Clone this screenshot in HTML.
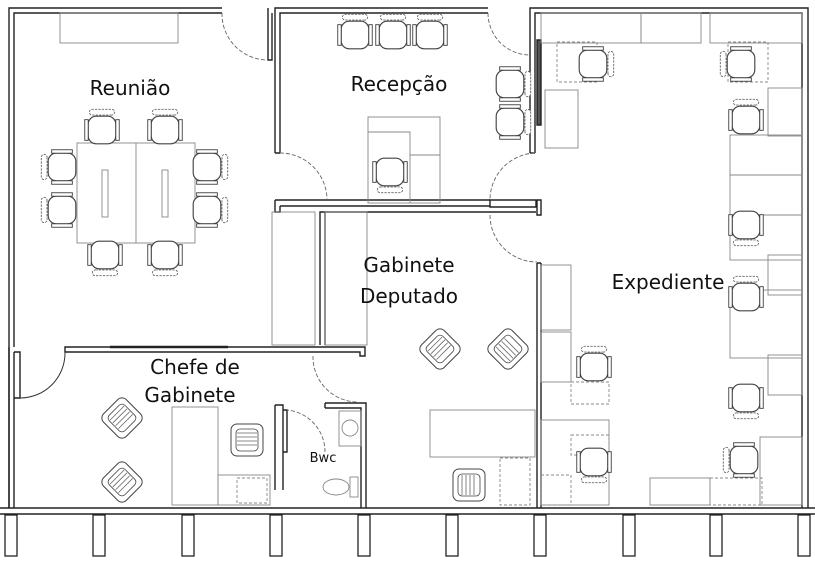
<!DOCTYPE html>
<html><head><meta charset="utf-8"><style>
html,body{margin:0;padding:0;background:#fff;}
svg{display:block;}
text{font-family:"DejaVu Sans","Liberation Sans",sans-serif;fill:#111;}
</style></head><body>
<svg width="815" height="564" viewBox="0 0 815 564" xmlns="http://www.w3.org/2000/svg">
<defs>
<g id="ch0">
 <rect x="-12" y="-12" width="24" height="24" rx="7" fill="#fff" stroke="#444" stroke-width="1"/>
 <rect x="-15" y="-9" width="3" height="18" fill="#fff" stroke="#444" stroke-width="0.8"/>
 <rect x="12" y="-9" width="3" height="18" fill="#fff" stroke="#444" stroke-width="0.8"/>
 <rect x="-11" y="13" width="22" height="5" rx="2.5" fill="#fff" stroke="#666" stroke-width="0.8" stroke-dasharray="2 1"/>
</g>
<g id="ch"><use href="#ch0" transform="scale(1.15)"/></g>
<g id="ac">
 <rect x="-16" y="-16" width="32" height="32" rx="6" fill="#fff" stroke="#444" stroke-width="1"/>
 <rect x="-11" y="-11" width="22" height="22" rx="4" fill="#fff" stroke="#444" stroke-width="0.8"/>
 <path d="M-7 -10V10M-3 -10V10M1 -10V10M5 -10V10" stroke="#666" stroke-width="0.8"/>
</g>
</defs>
<g fill="none" stroke="#222" stroke-width="1.4">
<path d="M9 508V8H222M14 347V13H222"/>
<path d="M268 8V60H272V13"/>
<path d="M275 153V8H488M280 153V13H488M275 153H280"/>
<path d="M275 200H490M280 206H490M275 200V212H280V206"/>
<path d="M530 153V8H808V508M535 153V13H802V508M530 153H535"/>
<path d="M537 40H541V125H537Z" fill="#555"/>
<path d="M490 200V207H536V200ZM537 200H541V215H537Z"/>
<path d="M537 263V508M541 263V508M537 263H541"/>
<path d="M320 345V212H536M325 345V212"/>
<path d="M65 347H365V356H360V352H65Z"/>
<path d="M110 347H228" stroke-width="2.5"/>
<path d="M9 347V508M14 352V508M14 352H20V398H14"/>
<path d="M275 405H283V490M275 405V490M283 410H287V452H283"/>
<path d="M325 403H366V508M325 408H361V508M325 403V408"/>
<path d="M0 508H815M0 514H815"/>
</g>
<g fill="none" stroke="#666" stroke-width="0.9" stroke-dasharray="4 2">
<path d="M222 13A46 46 0 0 0 268 60"/>
<path d="M280 153A47 47 0 0 1 327 200"/>
<path d="M488 13A42 42 0 0 0 530 55"/>
<path d="M535 153A47 47 0 0 0 490 200"/>
<path d="M490 215A47 47 0 0 0 537 262"/>
<path d="M313 356A45 45 0 0 0 358 402"/>
<path d="M325 452A42 42 0 0 0 287 410" />
</g>
<path d="M65 352A45 45 0 0 1 20 398" fill="none" stroke="#333" stroke-width="1"/>
<g fill="none" stroke="#888" stroke-width="0.9">
<rect x="60" y="13" width="118" height="30"/>
<rect x="77" y="143" width="118" height="100"/><path d="M136 143V243"/>
<rect x="102" y="170" width="6" height="47"/><rect x="162" y="170" width="6" height="47"/>
<rect x="368" y="117" width="72" height="86"/><path d="M368 132H410V203M410 155H440"/>
<rect x="272" y="212" width="43" height="133"/><rect x="325" y="212" width="42" height="133"/>
<rect x="430" y="410" width="105" height="47"/>
<rect x="500" y="458" width="30" height="47" stroke-dasharray="3 2"/>
<rect x="172" y="407" width="46" height="98"/><rect x="218" y="475" width="52" height="30"/>
<rect x="237" y="478" width="30" height="25" stroke-dasharray="3 2"/>
<rect x="541" y="13" width="100" height="30"/><rect x="641" y="13" width="60" height="30"/><rect x="710" y="13" width="92" height="30"/>
<rect x="557" y="42" width="40" height="40" stroke-dasharray="3 2"/>
<rect x="545" y="90" width="33" height="58"/>
<rect x="728" y="42" width="40" height="40" stroke-dasharray="3 2"/>
<rect x="768" y="88" width="34" height="48"/><rect x="730" y="135" width="72" height="40"/>
<rect x="730" y="175" width="72" height="40"/><rect x="730" y="215" width="72" height="45"/>
<rect x="768" y="255" width="34" height="40"/><rect x="730" y="290" width="72" height="68"/>
<rect x="768" y="355" width="34" height="40"/><rect x="760" y="437" width="42" height="68"/>
<rect x="650" y="478" width="60" height="27"/><rect x="710" y="478" width="52" height="27" stroke-dasharray="3 2"/>
<rect x="541" y="265" width="30" height="65"/><rect x="541" y="332" width="30" height="50"/>
<rect x="571" y="382" width="38" height="22" stroke-dasharray="3 2"/>
<rect x="541" y="420" width="68" height="85"/><rect x="571" y="435" width="38" height="20" stroke-dasharray="3 2"/>
<rect x="541" y="475" width="30" height="30" stroke-dasharray="3 2"/>
<rect x="339" y="411" width="22" height="35"/>
<circle cx="350" cy="428" r="8"/>
<ellipse cx="336" cy="487" rx="13" ry="8"/><rect x="350" y="477" width="8" height="20"/>
</g>
<use href="#ch" transform="translate(102,130) rotate(180)"/>
<use href="#ch" transform="translate(165,130) rotate(180)"/>
<use href="#ch" transform="translate(62,167) rotate(90)"/>
<use href="#ch" transform="translate(62,210) rotate(90)"/>
<use href="#ch" transform="translate(207,167) rotate(-90)"/>
<use href="#ch" transform="translate(207,210) rotate(-90)"/>
<use href="#ch" transform="translate(105,255)"/>
<use href="#ch" transform="translate(165,255)"/>
<use href="#ch" transform="translate(355,35) rotate(180)"/>
<use href="#ch" transform="translate(393,35) rotate(180)"/>
<use href="#ch" transform="translate(430,35) rotate(180)"/>
<use href="#ch" transform="translate(510,84) rotate(-90)"/>
<use href="#ch" transform="translate(510,122) rotate(-90)"/>
<use href="#ch" transform="translate(390,172)"/>
<use href="#ch" transform="translate(593,64) rotate(-90)"/>
<use href="#ch" transform="translate(741,64) rotate(90)"/>
<use href="#ch" transform="translate(746,120) rotate(180)"/>
<use href="#ch" transform="translate(746,225)"/>
<use href="#ch" transform="translate(746,297) rotate(180)"/>
<use href="#ch" transform="translate(746,398)"/>
<use href="#ch" transform="translate(744,460) rotate(90)"/>
<use href="#ch" transform="translate(594,367) rotate(180)"/>
<use href="#ch" transform="translate(594,462)"/>
<use href="#ac" transform="translate(440,349) rotate(45)"/>
<use href="#ac" transform="translate(508,349) rotate(-45)"/>
<use href="#ac" transform="translate(469,485)"/>
<use href="#ac" transform="translate(122,418) rotate(45)"/>
<use href="#ac" transform="translate(122,482) rotate(45)"/>
<use href="#ac" transform="translate(247,440) rotate(90)"/>
<g fill="#fff" stroke="#222" stroke-width="1.3">
<rect x="5" y="515" width="12" height="41"/><rect x="93" y="515" width="12" height="41"/>
<rect x="182" y="515" width="12" height="41"/><rect x="270" y="515" width="12" height="41"/>
<rect x="358" y="515" width="12" height="41"/><rect x="446" y="515" width="12" height="41"/>
<rect x="534" y="515" width="12" height="41"/><rect x="623" y="515" width="12" height="41"/>
<rect x="710" y="515" width="12" height="41"/><rect x="798" y="515" width="12" height="41"/>
</g>
<g font-size="20">
<text x="130" y="95" text-anchor="middle">Reunião</text>
<text x="399" y="91" text-anchor="middle">Recepção</text>
<text x="409" y="272" text-anchor="middle">Gabinete</text>
<text x="409" y="303" text-anchor="middle">Deputado</text>
<text x="668" y="289" text-anchor="middle">Expediente</text>
<text x="195" y="374" text-anchor="middle">Chefe de</text>
<text x="190" y="402" text-anchor="middle">Gabinete</text>
</g>
<text x="323" y="462" font-size="13" text-anchor="middle">Bwc</text>
</svg>
</body></html>
